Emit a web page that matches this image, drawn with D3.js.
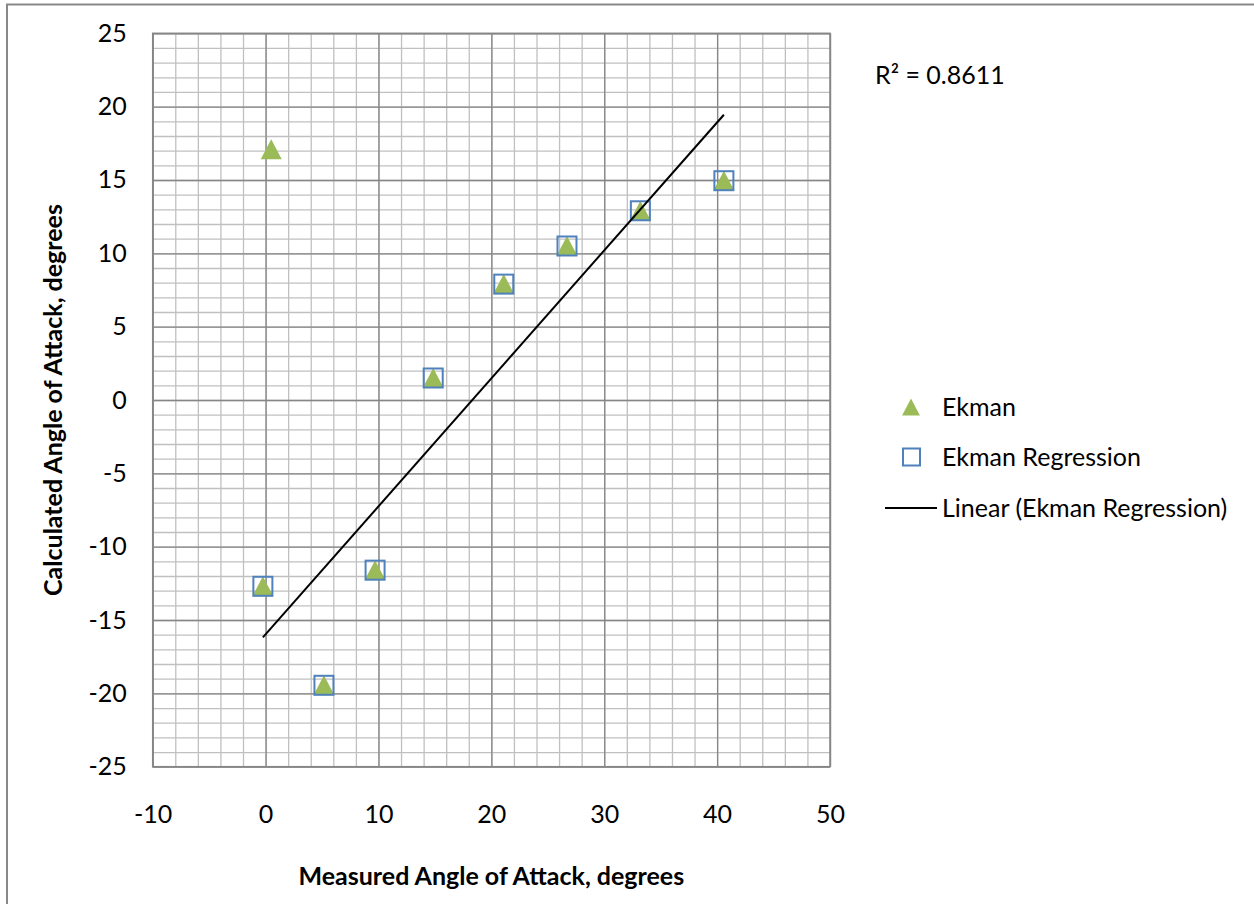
<!DOCTYPE html>
<html><head><meta charset="utf-8">
<script src="https://cdn.jsdelivr.net/npm/d3@7"></script>
<style>
html,body{margin:0;padding:0;background:#fff;}
svg{display:block;}
text{font-family:Lato,"Open Sans",sans-serif;fill:#000;}
</style></head>
<body>
<svg id="chart" width="1254" height="904"></svg>
<script>
// ---- data ----
const ekmanX = [0.5, -0.24, 5.17, 9.7, 14.85, 21.1, 26.7, 33.2, 40.6];
const ekmanY = [17.1, -12.7, -19.45, -11.6, 1.5, 7.9, 10.5, 12.9, 14.95];
const regX = [-0.24, 5.17, 9.7, 14.85, 21.1, 26.7, 33.2, 40.6];
const regY = [-12.7, -19.45, -11.6, 1.5, 7.9, 10.5, 12.9, 14.95];
const xTicks = [-10, 0, 10, 20, 30, 40, 50];
const yTicks = [-25, -20, -15, -10, -5, 0, 5, 10, 15, 20, 25];
const seriesNames = ["Ekman", "Ekman Regression", "Linear (Ekman Regression)"];
const r2Label = "R² = 0.8611";
const xTitle = "Measured Angle of Attack, degrees";
const yTitle = "Calculated Angle of Attack, degrees";

const svg = d3.select("#chart");
const L = 152.7, R = 830, T = 33.3, B = 766.7;
const x = d3.scaleLinear().domain([-10, 50]).range([L, R]);
const y = d3.scaleLinear().domain([-25, 25]).range([B, T]);
const FS = "25px";

// outer chart border
svg.append("rect").attr("x", 7).attr("y", 4.5).attr("width", 1300).attr("height", 1000)
  .attr("fill", "none").attr("stroke", "#898989").attr("stroke-width", 2);

// grid
const minorC = "#c0c0c0", majorC = "#868686";
const gx = svg.append("g").attr("transform", `translate(0,${B})`)
  .call(d3.axisBottom(x).tickValues(d3.range(-10, 50.001, 2)).tickSize(-(B - T)).tickFormat(""));
gx.select(".domain").remove();
gx.selectAll("line").attr("stroke", minorC).attr("stroke-width", 1.3);
const gy = svg.append("g").attr("transform", `translate(${L},0)`)
  .call(d3.axisLeft(y).tickValues(d3.range(-25, 25.001, 1)).tickSize(-(R - L)).tickFormat(""));
gy.select(".domain").remove();
gy.selectAll("line").attr("stroke", minorC).attr("stroke-width", 1.3);
const gxM = svg.append("g").attr("transform", `translate(0,${B})`)
  .call(d3.axisBottom(x).tickValues(xTicks).tickSize(-(B - T)).tickFormat(""));
gxM.select(".domain").remove();
gxM.selectAll("line").attr("stroke", majorC).attr("stroke-width", 1.3);
const gyM = svg.append("g").attr("transform", `translate(${L},0)`)
  .call(d3.axisLeft(y).tickValues(yTicks).tickSize(-(R - L)).tickFormat(""));
gyM.select(".domain").remove();
gyM.selectAll("line").attr("stroke", majorC).attr("stroke-width", 1.3);
svg.append("rect").attr("x", L).attr("y", T).attr("width", R - L).attr("height", B - T)
  .attr("fill", "none").attr("stroke", majorC).attr("stroke-width", 1.5);

// tick labels (plain hyphen minus)
const fmt = d => String(d);
const ax = svg.append("g").attr("transform", `translate(0,${B})`)
  .call(d3.axisBottom(x).tickValues(xTicks).tickSize(0).tickPadding(39).tickFormat(fmt));
ax.select(".domain").remove();
ax.selectAll("text").style("font-family", "Lato").style("font-size", FS).attr("fill", "#000");
const ay = svg.append("g").attr("transform", `translate(${L},0)`)
  .call(d3.axisLeft(y).tickValues(yTicks).tickSize(0).tickPadding(26).tickFormat(fmt));
ay.select(".domain").remove();
ay.selectAll("text").style("font-family", "Lato").style("font-size", FS).attr("fill", "#000");

// axis titles
svg.append("text").attr("x", (L + R) / 2).attr("y", 885).attr("text-anchor", "middle")
  .style("font-size", FS).style("font-weight", "bold").text(xTitle);
svg.append("text").attr("transform", `translate(62,${(T + B) / 2}) rotate(-90)`).attr("text-anchor", "middle")
  .style("font-size", FS).style("font-weight", "bold").text(yTitle);

// markers
const triPath = "M0,-10L10.5,10L-10.5,10Z";
const green = "#9BBB59", blue = "#4F81BD";
const ekman = ekmanX.map((v, i) => ({x: v, y: ekmanY[i]}));
const reg = regX.map((v, i) => ({x: v, y: regY[i]}));
svg.append("g").selectAll("path").data(ekman).join("path")
  .attr("d", triPath).attr("fill", green)
  .attr("transform", d => `translate(${x(d.x)},${y(d.y)})`);
svg.append("g").selectAll("rect").data(reg).join("rect")
  .attr("x", d => x(d.x) - 9.5).attr("y", d => y(d.y) - 9.5).attr("width", 19).attr("height", 19)
  .attr("fill", "none").attr("stroke", blue).attr("stroke-width", 2);

// linear trendline (least squares on regression series)
const mx = d3.mean(regX), my = d3.mean(regY);
const sxy = d3.sum(regX, (v, i) => (v - mx) * (regY[i] - my));
const sxx = d3.sum(regX, v => (v - mx) * (v - mx));
const slope = sxy / sxx, icpt = my - slope * mx;
const [x0, x1] = d3.extent(regX);
svg.append("path").datum([x0, x1])
  .attr("d", d3.line().x(d => x(d)).y(d => y(slope * d + icpt)))
  .attr("stroke", "#000").attr("stroke-width", 2).attr("fill", "none");

// R² label
svg.append("text").attr("x", 875).attr("y", 84).style("font-size", FS).text(r2Label);

// legend
const legY = [407, 457, 508];
svg.append("path").attr("d", triPath).attr("fill", green).attr("transform", `translate(911,${legY[0]}) scale(0.85)`);
svg.append("rect").attr("x", 903).attr("y", legY[1] - 8.5).attr("width", 17).attr("height", 17)
  .attr("fill", "none").attr("stroke", blue).attr("stroke-width", 2);
svg.append("line").attr("x1", 885).attr("x2", 937).attr("y1", legY[2]).attr("y2", legY[2])
  .attr("stroke", "#000").attr("stroke-width", 2);
seriesNames.forEach((n, i) => {
  svg.append("text").attr("x", 942).attr("y", legY[i]).attr("dy", "0.35em")
    .style("font-size", FS).text(n);
});
</script>
</body></html>
